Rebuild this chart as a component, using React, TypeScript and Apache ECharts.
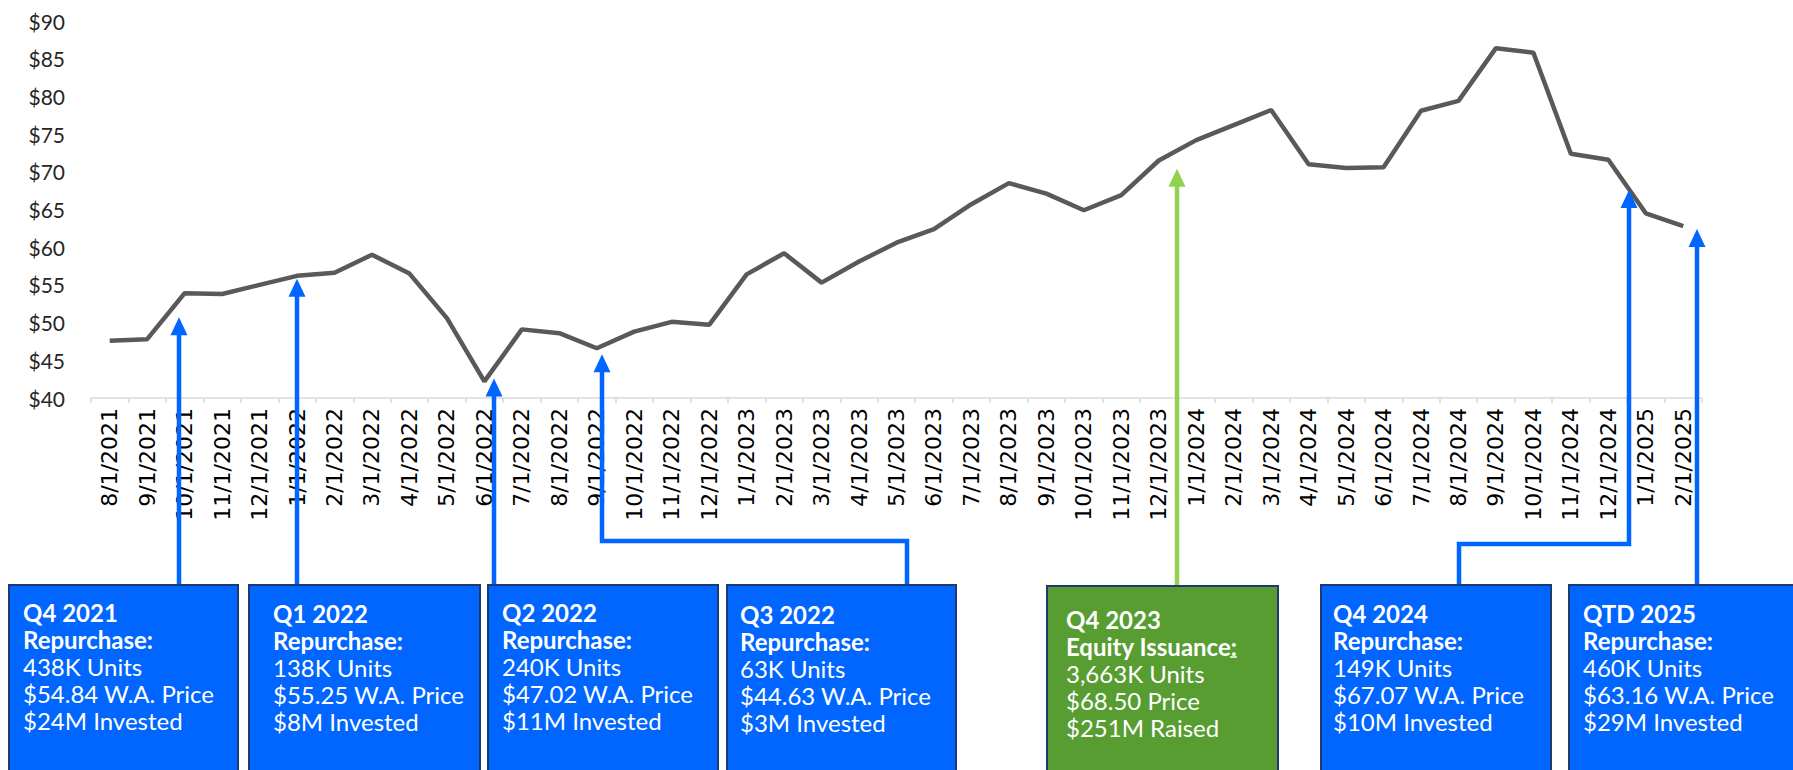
import { useEffect, useRef } from "react";
import * as echarts from "echarts";

const categories = [
  "8/1/2021", "9/1/2021", "10/1/2021", "11/1/2021", "12/1/2021",
  "1/1/2022", "2/1/2022", "3/1/2022", "4/1/2022", "5/1/2022", "6/1/2022",
  "7/1/2022", "8/1/2022", "9/1/2022", "10/1/2022", "11/1/2022", "12/1/2022",
  "1/1/2023", "2/1/2023", "3/1/2023", "4/1/2023", "5/1/2023", "6/1/2023",
  "7/1/2023", "8/1/2023", "9/1/2023", "10/1/2023", "11/1/2023", "12/1/2023",
  "1/1/2024", "2/1/2024", "3/1/2024", "4/1/2024", "5/1/2024", "6/1/2024",
  "7/1/2024", "8/1/2024", "9/1/2024", "10/1/2024", "11/1/2024", "12/1/2024",
  "1/1/2025", "2/1/2025",
];

const prices = [
  47.6, 47.8, 53.9, 53.8, 55.0,
  56.2, 56.6, 59.0, 56.5, 50.6, 42.2,
  49.1, 48.6, 46.6, 48.8, 50.1, 49.7,
  56.4, 59.2, 55.3, 58.1, 60.6, 62.4,
  65.7, 68.5, 67.1, 64.9, 66.9, 71.5,
  74.2, 76.2, 78.2, 71.0, 70.5, 70.6,
  78.1, 79.4, 86.4, 85.8, 72.4, 71.6,
  64.5, 62.8,
];

const yMin = 40;
const yMax = 90;
const yStep = 5;

// annotation arrows: position along the category axis (index units) and tip value
const arrowCats = [1.85, 5.0, 10.25, 13.15, 28.48, 40.56, 42.37];
const arrowTips = [50.7, 55.8, 42.6, 45.8, 70.4, 67.6, 62.4];
const arrowColors = ["#0066FF", "#0066FF", "#0066FF", "#0066FF", "#92D050", "#0066FF", "#0066FF"];

const boxTitles = ["Q4 2021", "Q1 2022", "Q2 2022", "Q3 2022", "Q4 2023", "Q4 2024", "QTD 2025"];
const boxKinds = ["Repurchase:", "Repurchase:", "Repurchase:", "Repurchase:", "Equity Issuance:", "Repurchase:", "Repurchase:"];
const boxUnits = ["438K Units", "138K Units", "240K Units", "63K Units", "3,663K Units", "149K Units", "460K Units"];
const boxPrices = ["$54.84 W.A. Price", "$55.25 W.A. Price", "$47.02 W.A. Price", "$44.63 W.A. Price", "$68.50 Price", "$67.07 W.A. Price", "$63.16 W.A. Price"];
const boxAmounts = ["$24M Invested", "$8M Invested", "$11M Invested", "$3M Invested", "$251M Raised", "$10M Invested", "$29M Invested"];
const boxFills = ["#0066FF", "#0066FF", "#0066FF", "#0066FF", "#579D31", "#0066FF", "#0066FF"];

// layout of the boxes (pixels)
const boxLefts = [9, 249, 488, 727, 1047, 1321, 1569];
const boxRights = [238, 480, 718, 956, 1278, 1551, 1800];
const boxTops = [585, 585, 585, 585, 586, 585, 585];
const textLefts = [23, 273, 502, 740, 1066, 1333, 1583];
const textFirst = [612, 613, 612, 614, 619, 613, 613];
// connector elbows: [elbowY, targetX] or null
const elbows: (null | [number, number])[] = [null, null, null, [541, 907], null, [544, 1459], null];

export default function App() {
  const ref = useRef<HTMLDivElement>(null);

  useEffect(() => {
    if (!ref.current) return;
    const chart = echarts.init(ref.current, null, { renderer: "svg" });
    chart.setOption({
      animation: false,
      backgroundColor: "#ffffff",
      grid: { left: 91, width: 1611, top: 21, height: 377, containLabel: false },
      xAxis: {
        type: "category",
        data: categories,
        boundaryGap: true,
        axisLine: { lineStyle: { color: "#d9d9d9", width: 1.5 } },
        axisTick: { show: true, length: 5, lineStyle: { color: "#d9d9d9", width: 1.5 } },
        axisLabel: {
          interval: 0,
          rotate: 90,
          margin: 10,
          fontFamily: "DejaVu Sans",
          fontSize: 22,
          color: "#000000",
        },
      },
      yAxis: {
        type: "value",
        min: yMin,
        max: yMax,
        interval: yStep,
        axisLine: { show: false },
        axisTick: { show: false },
        splitLine: { show: false },
        axisLabel: {
          formatter: (v: number) => "$" + v,
          fontFamily: "Lato",
          fontSize: 21,
          color: "#262626",
          margin: 26,
        },
      },
      series: [
        {
          type: "line",
          data: prices,
          symbol: "none",
          lineStyle: { color: "#595959", width: 4.5 },
          z: 3,
        },
      ],
    });

    const x0 = chart.convertToPixel({ xAxisIndex: 0 }, 0) as number;
    const x1 = chart.convertToPixel({ xAxisIndex: 0 }, 1) as number;
    const step = x1 - x0;
    const xAt = (c: number) => x0 + step * c;
    const yAt = (v: number) => chart.convertToPixel({ yAxisIndex: 0 }, v) as number;

    const elements: any[] = [];
    const headH = 18;
    const headW = 8.5;
    arrowCats.forEach((c, i) => {
      const x = Math.round(xAt(c));
      const tip = yAt(arrowTips[i]);
      const color = arrowColors[i];
      const el = elbows[i];
      const boxTop = boxTops[i];
      if (el) {
        elements.push({
          type: "polyline",
          z: 100,
          shape: { points: [[x, tip + headH - 2], [x, el[0]], [el[1], el[0]], [el[1], boxTop]] },
          style: { stroke: color, lineWidth: 4.5, fill: null },
        });
      } else {
        elements.push({
          type: "line",
          z: 100,
          shape: { x1: x, y1: tip + headH - 2, x2: x, y2: boxTop },
          style: { stroke: color, lineWidth: 4.5 },
        });
      }
      elements.push({
        type: "polygon",
        z: 101,
        shape: { points: [[x, tip], [x - headW, tip + headH], [x + headW, tip + headH]] },
        style: { fill: color },
      });
    });

    const lineGap = 27;
    boxTitles.forEach((t, i) => {
      elements.push({
        type: "rect",
        z: 110,
        shape: { x: boxLefts[i], y: boxTops[i], width: boxRights[i] - boxLefts[i], height: 220 },
        style: { fill: boxFills[i], stroke: "#1F3A70", lineWidth: 2 },
      });
      const lines = [
        { text: t, bold: true },
        { text: boxKinds[i], bold: true },
        { text: boxUnits[i], bold: false },
        { text: boxPrices[i], bold: false },
        { text: boxAmounts[i], bold: false },
      ];
      lines.forEach((ln, j) => {
        elements.push({
          type: "text",
          z: 120,
          x: textLefts[i],
          y: textFirst[i] + j * lineGap,
          style: {
            text: ln.text,
            fill: "#ffffff",
            fontFamily: "Lato",
            fontSize: 24,
            fontWeight: ln.bold ? "bold" : "normal",
            align: "left",
            verticalAlign: "middle",
          },
        });
      });
    });
    // underline under the colon of "Equity Issuance:"
    elements.push({
      type: "line",
      z: 121,
      shape: { x1: 1230, y1: textFirst[4] + lineGap + 11, x2: 1237, y2: textFirst[4] + lineGap + 11 },
      style: { stroke: "#ffffff", lineWidth: 1.5 },
    });

    chart.setOption({ graphic: { elements } });

    return () => {
      chart.dispose();
    };
  }, []);

  return (
    <div
      ref={ref}
      style={{ position: "fixed", left: 0, top: 0, width: 1793, height: 770, background: "#fff" }}
    />
  );
}
